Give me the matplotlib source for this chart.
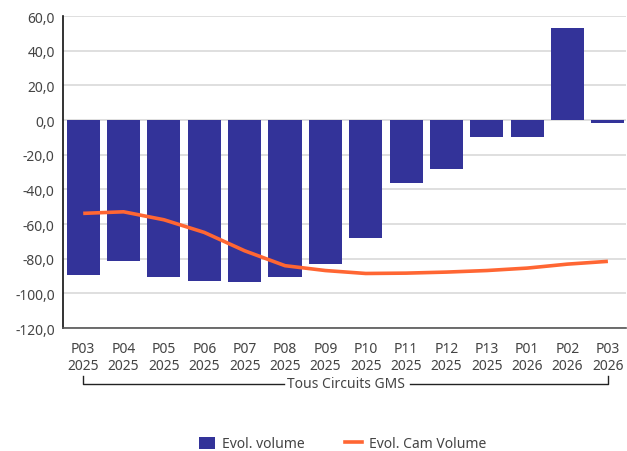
import matplotlib
matplotlib.use('Agg')
import matplotlib.pyplot as plt
import matplotlib.ticker as mtick
import matplotlib.transforms as mtrans
from matplotlib.patches import Patch
from matplotlib.lines import Line2D

plt.rcParams['font.family'] = ['Noto Sans', 'DejaVu Sans']
plt.rcParams['font.size'] = 10

periods = ['P03', 'P04', 'P05', 'P06', 'P07', 'P08', 'P09', 'P10',
           'P11', 'P12', 'P13', 'P01', 'P02', 'P03']
years = ['2025'] * 11 + ['2026'] * 3
evol_volume = [-89.4, -81.4, -90.6, -92.9, -93.5, -90.6, -83.1, -68.1,
               -36.2, -28.3, -9.6, -9.6, 52.9, -1.5]
evol_cam_volume = [-53.8, -52.9, -57.5, -64.8, -75.4, -84.0, -86.8, -88.5,
                   -88.3, -87.7, -86.8, -85.4, -83.1, -81.5]
group_label = 'Tous Circuits GMS'

BAR_COLOR = '#333399'
LINE_COLOR = '#FF6633'
TEXT_COLOR = '#444444'

fig = plt.figure(figsize=(6.27, 4.52), dpi=100)
ax = fig.add_axes([0.1005, 0.272, 0.898, 0.69])

x = list(range(len(periods)))
ax.bar(x, evol_volume, width=0.82, color=BAR_COLOR, zorder=2)
ax.plot(x, evol_cam_volume, color=LINE_COLOR, lw=2.6, zorder=3,
        solid_capstyle='butt')

ax.set_xlim(-0.5, 13.45)
ax.set_ylim(-120, 60)
ax.set_yticks(range(-120, 61, 20))
ax.yaxis.set_major_formatter(
    mtick.FuncFormatter(lambda v, p: f'{v:.1f}'.replace('.', ',')))
ax.grid(axis='y', color='#d9d9d9', lw=1.2, zorder=0)
ax.set_axisbelow(True)

ax.set_xticks(x)
ax.set_xticklabels([f'{p}\n{y}' for p, y in zip(periods, years)],
                   linespacing=1.25)
ax.tick_params(axis='both', length=0, colors=TEXT_COLOR, labelsize=10)
ax.tick_params(axis='x', pad=9)
ax.tick_params(axis='y', pad=6)

for s in ['top', 'right']:
    ax.spines[s].set_visible(False)
ax.spines['left'].set_color('#111111')
ax.spines['left'].set_linewidth(1.2)
ax.spines['bottom'].set_color('#555555')
ax.spines['bottom'].set_linewidth(1.2)

# group bracket under the tick labels
tr = mtrans.blended_transform_factory(ax.transData, fig.transFigure)
yb = 1 - 385 / 452
yt = 1 - 377 / 452
xmid = (x[0] + x[-1]) / 2
ax.plot([x[0], x[0], xmid - 1.52], [yt, yb, yb], transform=tr,
        color='#222222', lw=1.0, clip_on=False)
ax.plot([xmid + 1.59, x[-1], x[-1]], [yb, yb, yt], transform=tr,
        color='#222222', lw=1.0, clip_on=False)
ax.text(xmid, yb, group_label, transform=tr, ha='center', va='center',
        color=TEXT_COLOR, fontsize=10)

handles = [Patch(facecolor=BAR_COLOR, edgecolor='none'),
           Line2D([], [], color=LINE_COLOR, lw=2.6)]
fig.legend(handles, ['Evol. volume', 'Evol. Cam Volume'], loc='center',
           bbox_to_anchor=(0.546, 1 - 445 / 452), ncol=2, frameon=False,
           handlelength=1.2, handleheight=1.0, handletextpad=0.5,
           columnspacing=2.9, labelcolor=TEXT_COLOR, fontsize=10)

fig.savefig('out.png', dpi=100)
